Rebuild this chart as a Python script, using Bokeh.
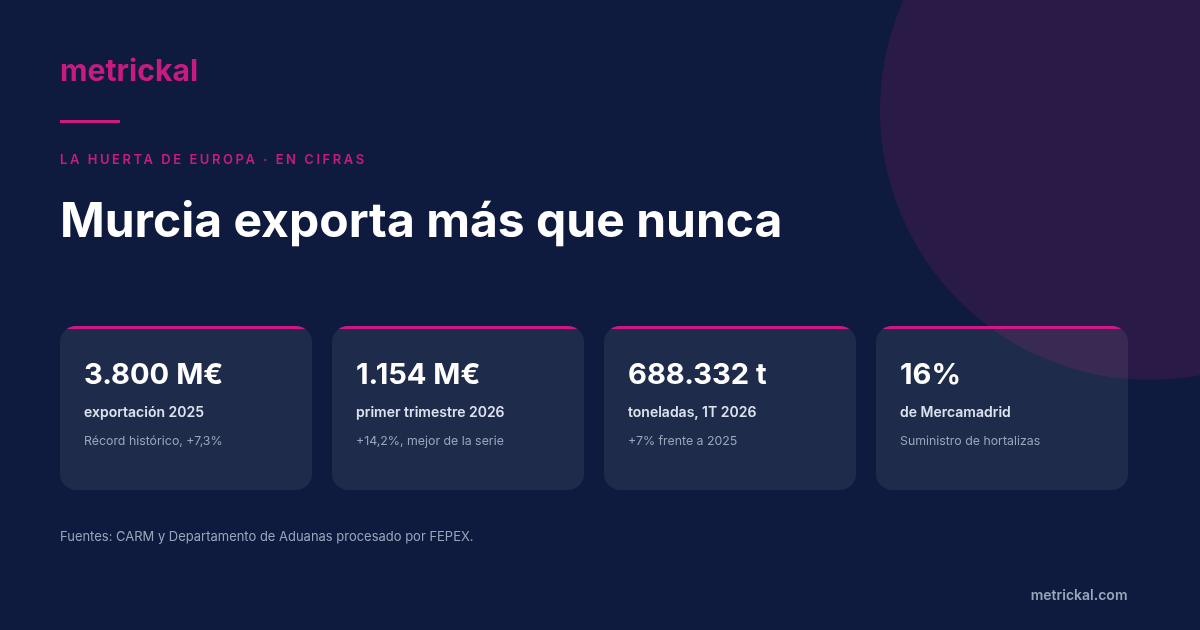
import numpy as np
from bokeh.core.properties import value
from bokeh.embed import file_html
from bokeh.models import Range1d
from bokeh.plotting import figure
from bokeh.resources import INLINE

# card contents
values = ["3.800 M€", "1.154 M€", "688.332 t", "16%"]
labels = ["exportación 2025", "primer trimestre 2026", "toneladas, 1T 2026", "de Mercamadrid"]
details = ["Récord histórico, +7,3%", "+14,2%, mejor de la serie", "+7% frente a 2025", "Suministro de hortalizas"]

brand = "metrickal"
eyebrow = "LA HUERTA DE EUROPA · EN CIFRAS"
headline = "Murcia exporta más que nunca"
source = "Fuentes: CARM y Departamento de Aduanas procesado por FEPEX."
site = "metrickal.com"

BG = "#0e1b3e"
PINK = "#d01884"
PINK_TEXT = "#c91a82"
FONT = value("Inter")
SEMI = value("Inter SemiBold")


def blank(w, h, left, top, **styles):
    # 2px of bleed on every side, the svg backend also shifts everything by half a pixel
    f = figure(width=w + 4, height=h + 4, x_range=Range1d(-1.5, w + 2.5), y_range=Range1d(h + 2.5, -1.5),
               output_backend="svg", toolbar_location=None, min_border=0,
               styles={"position": "fixed", "left": f"{left - 2}px", "top": f"{top - 2}px", **styles})
    f.axis.visible = False
    f.grid.visible = False
    f.outline_line_color = None
    return f


p = blank(1200, 630, 0, 0)
p.background_fill_color = BG
p.border_fill_color = BG

# big circle behind the cards
p.circle(x=[1150], y=[110], radius=270, fill_color=PINK, fill_alpha=0.15, line_color=None)


def put(x, y, txt, size, color, style="normal", align="left", fig=None, font=FONT):
    (fig or p).text(x=[x], y=[y], text=[txt], text_font=font, text_font_size=f"{size}px",
                    text_font_style=style, text_color=color, text_align=align,
                    text_baseline="alphabetic")


put(60, 70, brand, 30.2, PINK_TEXT, "bold")
p.quad(left=[60], right=[120], top=[120], bottom=[123], fill_color=PINK, line_color=None)
put(60, 219, headline, 48, "#ffffff", "bold")

# cards
card_w, card_h, gap, r, bar = 252, 164, 20, 16, 3
card_top = 326
for i in range(len(values)):
    x0 = 60 + i * (card_w + gap)
    p.quad(left=[x0], right=[x0 + card_w], top=[card_top], bottom=[card_top + card_h],
           fill_color="#ffffff", fill_alpha=0.07, line_color=None, border_radius=r)
    # accent strip clipped by the rounded corners
    t = np.linspace(np.arccos((r - bar) / r), 0, 12)
    xs = np.r_[x0 + r - r * np.sin(t), x0 + card_w - r + r * np.sin(t[::-1])]
    ys = np.r_[card_top + r - r * np.cos(t), card_top + r - r * np.cos(t[::-1])]
    p.patch(xs, ys, fill_color=PINK, line_color=None)
    put(x0 + 24, 373.5, values[i], 29.1, "#ffffff", "bold")
    put(x0 + 24, 411.5, labels[i], 14, "#dde3ee", font=SEMI)
    put(x0 + 24, 440, details[i], 12.35, "#9aa5bb")

put(60, 536, source, 12.97, "#9aa5bb")
put(1127.5, 594, site, 14, "#9aa5bb", "normal", "right", font=SEMI)

# tracked-out line sits in its own transparent figure so the spacing stays on it
q = blank(340, 24, 60, 150, **{"letter-spacing": "2.54px"})
q.background_fill_alpha = 0
q.border_fill_alpha = 0
put(0, 9, eyebrow, 13, PINK_TEXT, fig=q, font=SEMI)

open("out.html", "w").write(file_html([p, q], INLINE))
